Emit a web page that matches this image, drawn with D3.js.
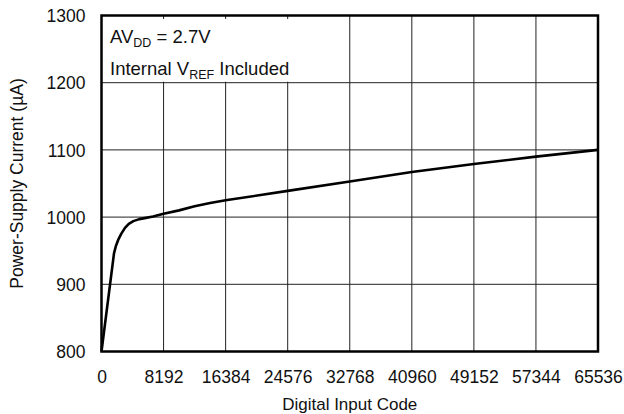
<!DOCTYPE html>
<html><head><meta charset="utf-8">
<script src="https://cdn.jsdelivr.net/npm/d3@7"></script>
<style>
body{margin:0;background:#fff;}
svg{display:block;font-family:"Liberation Sans",Arial,Helvetica,sans-serif;}
</style></head>
<body><svg id="c" width="624" height="414"></svg>
<script>
const codes   = [0, 1650, 1900, 2200, 2600, 3100, 3600, 4200, 5000, 5700, 6800, 8192, 10240, 12288, 14336, 16384, 24576, 32768, 40960, 49152, 57344, 65536];
const current = [800, 946, 957, 966, 975, 984, 990, 994, 997, 998.5, 1001, 1005, 1010, 1016, 1021, 1025, 1039, 1053, 1067, 1079, 1090, 1100];
const xTicks = [0, 8192, 16384, 24576, 32768, 40960, 49152, 57344, 65536];
const yTicks = [800, 900, 1000, 1100, 1200, 1300];

const svg = d3.select("#c");
const L = 101.5, R = 598, T = 15.5, B = 351.5;
const x = d3.scaleLinear().domain([0, 65536]).range([L, R]);
const y = d3.scaleLinear().domain([800, 1300]).range([B, T]);

// grid
const g = svg.append("g");
g.selectAll("line.v").data(xTicks.slice(1, -1)).enter().append("line")
  .attr("x1", d => x(d)).attr("x2", d => x(d)).attr("y1", T).attr("y2", B)
  .attr("stroke", "#222").attr("stroke-width", 1);
g.selectAll("line.h").data(yTicks.slice(1, -1)).enter().append("line")
  .attr("x1", L).attr("x2", R).attr("y1", d => y(d)).attr("y2", d => y(d))
  .attr("stroke", "#222").attr("stroke-width", 1);

// annotation box covering grid
svg.append("rect").attr("x", L + 1).attr("y", T + 3.5)
  .attr("width", x(32768) - L - 2.5).attr("height", y(1200) - T - 4.5)
  .attr("fill", "#fff");

// curve
const line = d3.line().x((d, i) => x(codes[i])).y(d => y(d)).curve(d3.curveLinear);
svg.append("path").datum(current).attr("d", line)
  .attr("fill", "none").attr("stroke", "#000").attr("stroke-width", 2.6)
  .attr("stroke-linejoin", "round");

// frame
svg.append("rect").attr("x", L).attr("y", T).attr("width", R - L).attr("height", B - T)
  .attr("fill", "none").attr("stroke", "#000").attr("stroke-width", 2.5);

// axes labels
const xa = d3.axisBottom(x).tickValues(xTicks).tickSize(0).tickPadding(0).tickFormat(d3.format("d"));
const xg = svg.append("g").attr("transform", `translate(0,${B})`).call(xa);
xg.select(".domain").remove();
xg.selectAll("text").attr("dy", null).attr("y", 31.5).attr("font-size", 17.5)
  .attr("font-family", "Liberation Sans, Arial, sans-serif").attr("fill", "#111");

const ya = d3.axisLeft(y).tickValues(yTicks).tickSize(0).tickPadding(0).tickFormat(d3.format("d"));
const yg = svg.append("g").attr("transform", `translate(${L},0)`).call(ya);
yg.select(".domain").remove();
yg.selectAll("text").attr("x", -16).attr("dy", "0.35em").attr("font-size", 17.5)
  .attr("font-family", "Liberation Sans, Arial, sans-serif").attr("fill", "#111");

svg.append("text").attr("x", (L + R) / 2).attr("y", 410).attr("text-anchor", "middle")
  .attr("font-size", 17).attr("fill", "#111").text("Digital Input Code");
svg.append("text").attr("transform", `translate(23,${(T + B) / 2}) rotate(-90)`)
  .attr("text-anchor", "middle").attr("font-size", 17.5).attr("fill", "#111")
  .text("Power-Supply Current (\u00B5A)");

// annotation
const t1 = svg.append("text").attr("x", 110).attr("y", 43).attr("font-size", 18.5).attr("fill", "#111");
t1.append("tspan").text("AV");
t1.append("tspan").attr("font-size", 12.5).attr("dy", 4).text("DD");
t1.append("tspan").attr("dy", -4).text(" = 2.7V");
const t2 = svg.append("text").attr("x", 110).attr("y", 74.5).attr("font-size", 18.5).attr("fill", "#111");
t2.append("tspan").text("Internal V");
t2.append("tspan").attr("font-size", 12.5).attr("dy", 4).text("REF");
t2.append("tspan").attr("dy", -4).text(" Included");
</script></body></html>
